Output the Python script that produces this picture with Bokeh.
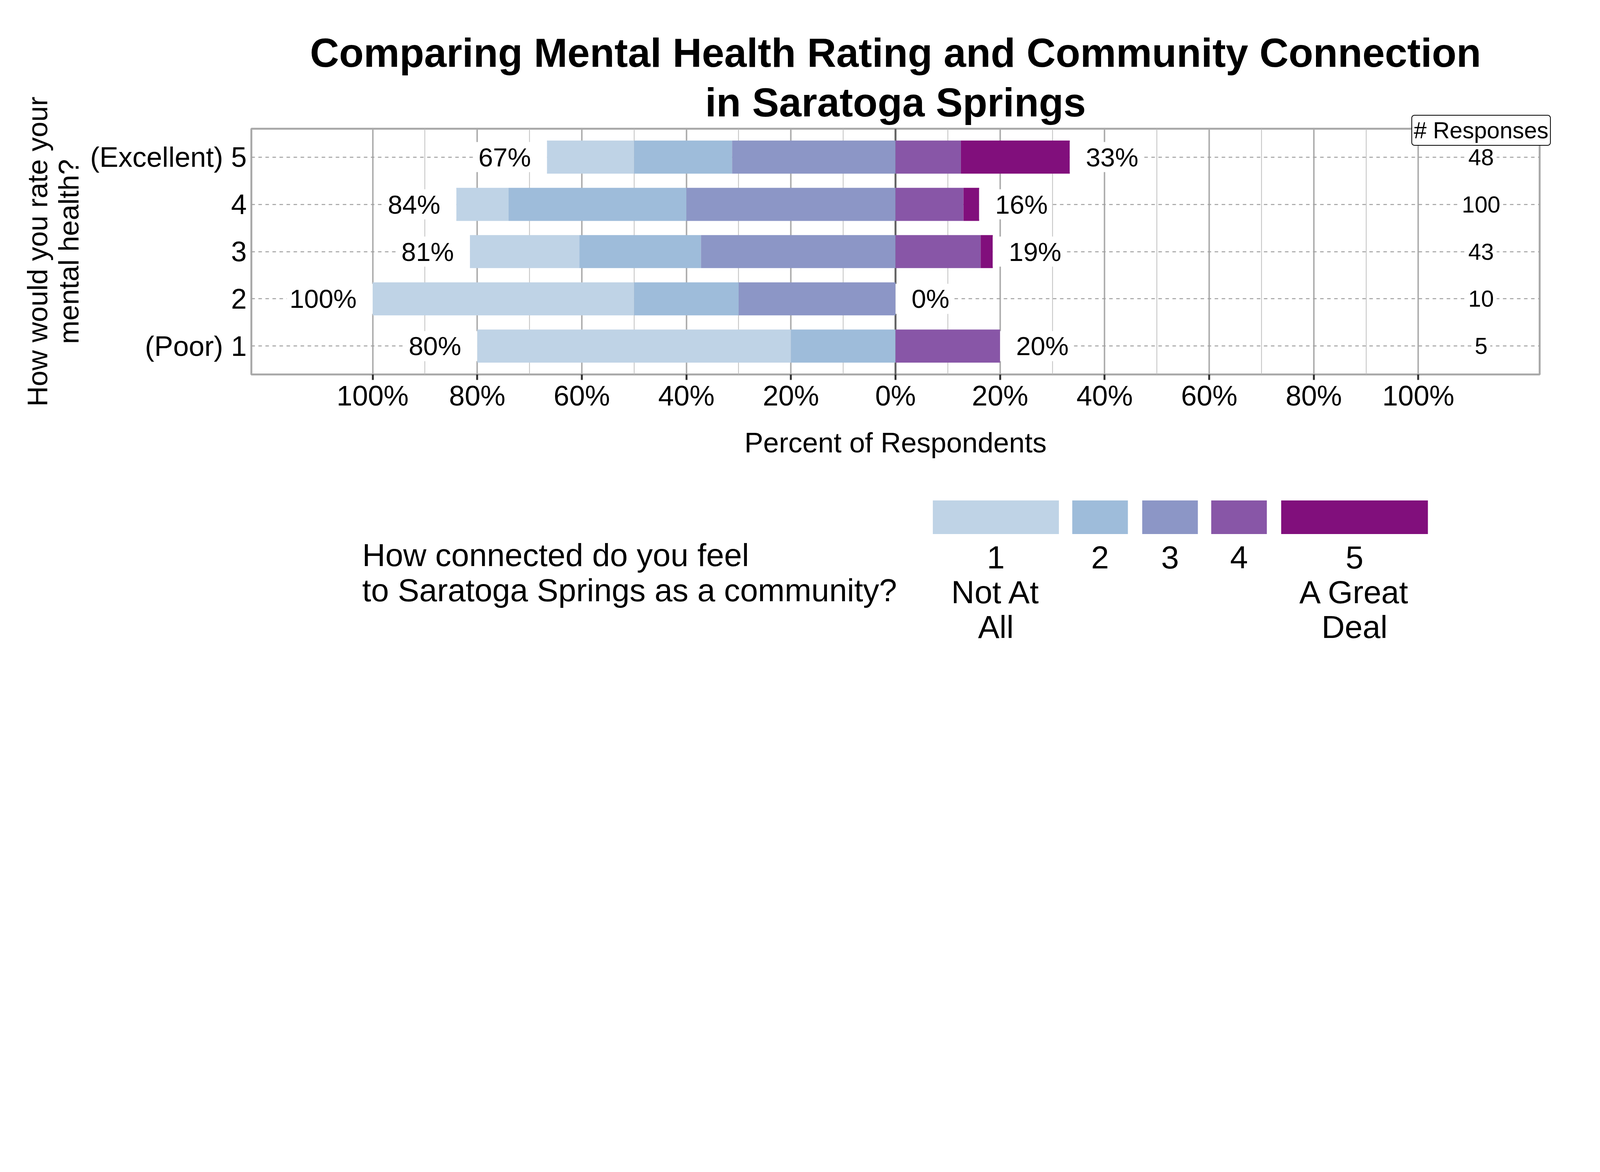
from bokeh.plotting import figure
from bokeh.models import Range1d, FixedTicker, Span, Label, ColumnDataSource, Title
from bokeh.layouts import column
from bokeh.embed import file_html
from bokeh.resources import INLINE
from bokeh.core.properties import value

FONT = "Liberation Sans"

# ---------------- data ----------------
rows = [5, 4, 3, 2, 1]
row_labels = ["(Excellent) 5", "4", "3", "2", "(Poor) 1"]
level_names = ["1", "2", "3", "4", "5"]
legend_line2 = ["Not At", "", "", "", "A Great"]
legend_line3 = ["All", "", "", "", "Deal"]
n_level1 = [8, 10, 9, 5, 3]
n_level2 = [9, 34, 10, 2, 1]
n_level3 = [15, 40, 16, 3, 0]
n_level4 = [6, 13, 7, 0, 1]
n_level5 = [10, 3, 1, 0, 0]
colors = ["#BFD3E6", "#9EBCDA", "#8C96C6", "#8856A7", "#810F7C"]
x_ticks = [-100, -80, -60, -40, -20, 0, 20, 40, 60, 80, 100]
x_tick_labels = ["100%", "80%", "60%", "40%", "20%", "0%", "20%", "40%", "60%", "80%", "100%"]
x_minor = [-90, -70, -50, -30, -10, 10, 30, 50, 70, 90]
title_line1 = "Comparing Mental Health Rating and Community Connection"
title_line2 = "in Saratoga Springs"
y_title = "How would you rate your\nmental health?"
x_title = "Percent of Respondents"
count_header = "# Responses"
legend_title = ["How connected do you feel", "to Saratoga Springs as a community?"]

levels = [n_level1, n_level2, n_level3, n_level4, n_level5]
totals = [sum(v) for v in zip(*levels)]
pct = [[100.0 * c / t for c, t in zip(lv, totals)] for lv in levels]

# ---------------- sizing (S = screenshot px per CSS px) ----------------
S = 1.608
def px(v):
    return v / S
def fs(v):
    return "%.1fpx" % (v / S)

W = int(6600 / S) - 16          # total layout width (CSS px)
H = int(3000 / S) - 16          # total layout height (CSS px)

fl = int(round(1047 / S - 8))
fr = int(round(6350 / S - 8))
ft = int(round(541.7 / S - 8))
fb = int(round(1554 / S - 8))
bottom_border = 300
H1 = fb + bottom_border         # main chart height
H2 = H - H1                     # legend panel height

# ---------------- main chart ----------------
p = figure(width=W, height=H1, frame_width=fr - fl, frame_height=fb - ft,
           min_border_left=fl, min_border_right=W - fr, min_border_top=ft,
           min_border_bottom=bottom_border,
           x_range=Range1d(-123.2, 123.2), y_range=Range1d(0.4, 5.6),
           output_backend="svg", toolbar_location=None)
p.background_fill_color = "white"
p.border_fill_color = "white"
p.outline_line_color = "#AAAAAA"
p.outline_line_width = px(8)

# grids
p.xgrid.ticker = FixedTicker(ticks=x_ticks, minor_ticks=x_minor)
p.xgrid.grid_line_color = "#AAAAAA"
p.xgrid.grid_line_width = px(6)
p.xgrid.minor_grid_line_color = "#BBBBBB"
p.xgrid.minor_grid_line_width = px(3)
p.ygrid.ticker = FixedTicker(ticks=rows)
p.ygrid.grid_line_color = "#A0A0A0"
p.ygrid.grid_line_width = px(4)
p.ygrid.grid_line_dash = "9 9"
zero = Span(location=0, dimension="height", line_color="#666666", line_width=px(8), level="underlay")
p.add_layout(zero)

# bars (diverging: levels 1-3 left of zero, 4-5 right)
left3 = [-a for a in pct[2]]
left2 = [-(a + b) for a, b in zip(pct[1], pct[2])]
left1 = [-(a + b + c) for a, b, c in zip(pct[0], pct[1], pct[2])]
right4 = pct[3]
right5 = [a + b for a, b in zip(pct[3], pct[4])]
segs = [(left1, left2), (left2, left3), (left3, [0] * 5), ([0] * 5, right4), (right4, right5)]
for (l, r), col in zip(segs, colors):
    p.hbar(y=rows, left=l, right=r, height=0.7, fill_color=col, line_color=None)

# percent labels
off = int(round(px(66)))
sp = int(round(px(12)))
lsrc = ColumnDataSource(dict(x=left1, y=rows, t=["%d%%" % round(-v) for v in left1]))
rsrc = ColumnDataSource(dict(x=right5, y=rows, t=["%d%%" % round(v) for v in right5]))
p.text(x="x", y="y", text="t", source=lsrc, text_align="right", text_baseline="middle",
       text_font=value(FONT), text_font_size=fs(108), text_color="black",
       background_fill_color="white",
       padding=dict(left=sp, right=off, top=1, bottom=1))
p.text(x="x", y="y", text="t", source=rsrc, text_align="left", text_baseline="middle",
       text_font=value(FONT), text_font_size=fs(108), text_color="black",
       background_fill_color="white",
       padding=dict(left=off, right=sp, top=1, bottom=1))

# response counts
csrc = ColumnDataSource(dict(x=[112] * 5, y=rows, t=[str(t) for t in totals]))
p.text(x="x", y="y", text="t", source=csrc, text_align="center", text_baseline="middle",
       text_font=value(FONT), text_font_size=fs(95), text_color="black",
       background_fill_color="white", padding=sp)
# header box straddles the frame edge: put it in a side panel so it is not clipped
hdr = Label(x=112, y=5.6, y_offset=-4, text=count_header, text_align="center",
            text_baseline="middle",
            text_font=FONT, text_font_size=fs(95), text_color="black",
            background_fill_color="white", border_line_color="black",
            border_line_width=2, border_radius=7, padding=5)

# axes
p.xaxis.ticker = FixedTicker(ticks=x_ticks)
p.xaxis.major_label_overrides = dict(zip(x_ticks, x_tick_labels))
p.xaxis.axis_line_color = None
p.xaxis.major_tick_in = 0
p.xaxis.major_tick_out = int(round(px(23)))
p.xaxis.major_tick_line_color = "#333333"
p.xaxis.major_tick_line_width = px(8)
p.xaxis.minor_tick_line_color = None
p.xaxis.major_label_text_font = FONT
p.xaxis.major_label_text_font_size = fs(116)
p.xaxis.major_label_text_color = "black"
p.xaxis.major_label_standoff = 0
p.xaxis.axis_label = x_title
p.xaxis.axis_label_text_font = FONT
p.xaxis.axis_label_text_font_size = fs(116)
p.xaxis.axis_label_text_font_style = "normal"
p.xaxis.axis_label_text_color = "black"
p.xaxis.axis_label_standoff = int(round(px(60)))
p.add_layout(hdr, "below")

p.yaxis.ticker = FixedTicker(ticks=rows)
p.yaxis.major_label_overrides = dict(zip(rows, row_labels))
p.yaxis.axis_line_color = None
p.yaxis.major_tick_in = 0
p.yaxis.major_tick_out = 0
p.yaxis.minor_tick_line_color = None
p.yaxis.major_label_text_font = FONT
p.yaxis.major_label_text_font_size = fs(116)
p.yaxis.major_label_text_color = "black"
p.yaxis.major_label_standoff = int(round(px(20)))
p.yaxis.axis_label = y_title
p.yaxis.axis_label_text_font = FONT
p.yaxis.axis_label_text_font_size = fs(116)
p.yaxis.axis_label_text_font_style = "normal"
p.yaxis.axis_label_text_color = "black"
p.yaxis.axis_label_text_line_height = 1.0
p.yaxis.axis_label_standoff = int(round(px(20)))

# title: two centred lines (added Title sits next to the frame, p.title above it)
p.title.text = title_line1
p.title.align = "center"
p.title.text_font = FONT
p.title.text_font_size = fs(166)
p.title.text_font_style = "bold"
p.title.text_color = "black"
p.title.standoff = 0
p.add_layout(Title(text=title_line2, align="center", text_font=FONT, text_font_size=fs(166),
                   text_font_style="bold", text_color="black", standoff=20), "above")

# ---------------- legend panel (coordinates in screenshot pixels) ----------------
y0 = (H1 + 8) * S
q = figure(width=W, height=H2, frame_width=fr - fl, frame_height=H2,
           min_border_left=fl, min_border_right=W - fr, min_border_top=0, min_border_bottom=0,
           x_range=Range1d((fl + 8) * S, (fr + 8) * S),
           y_range=Range1d(y0 + H2 * S, y0),
           x_axis_type=None, y_axis_type=None,
           output_backend="svg", toolbar_location=None)
q.outline_line_color = None
q.background_fill_color = "white"
q.border_fill_color = "white"
key_left = [3852, 4426, 4714, 4998, 5286]
key_right = [4371, 4655, 4943, 5227, 5890]
key_mid = [(a + b) / 2 for a, b in zip(key_left, key_right)]
q.quad(left=key_left, right=key_right, top=2072, bottom=2210, fill_color=colors, line_color=None)
cap_half = 0.358 * 132
for yy, labs in zip([2353, 2497, 2640], [level_names, legend_line2, legend_line3]):
    q.text(x=key_mid, y=[yy - cap_half] * 5, text=labs, text_align="center", text_baseline="middle",
           text_font=value(FONT), text_font_size=fs(132), text_color="black")
q.text(x=[1503, 1503], y=[2343 - cap_half, 2488 - cap_half], text=legend_title, text_align="left",
       text_baseline="middle", text_font=value(FONT), text_font_size=fs(132),
       text_color="black")

layout = column(p, q, spacing=0)
open("out.html", "w").write(file_html(layout, INLINE))
